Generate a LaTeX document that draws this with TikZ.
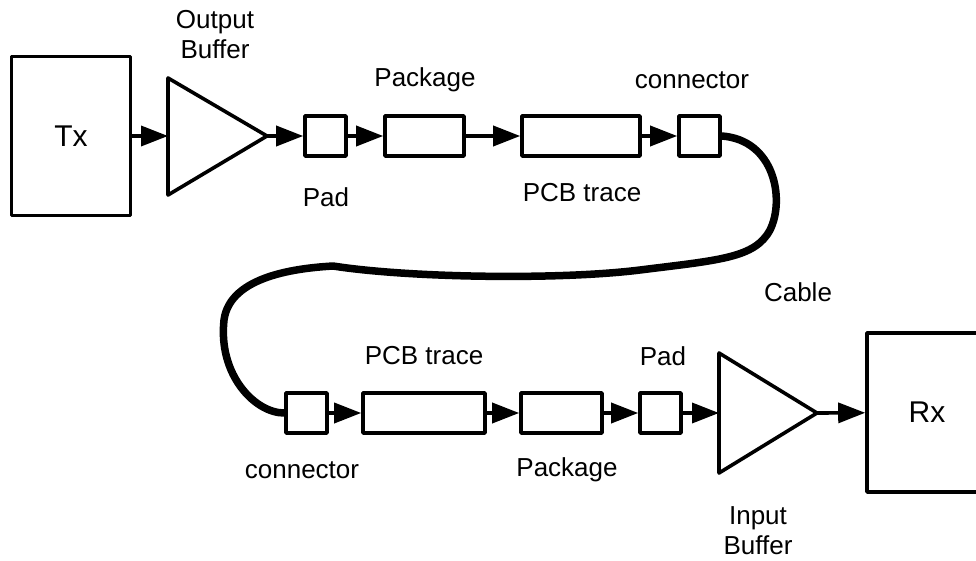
\documentclass[tikz,border=0pt]{standalone}
\usepackage{fontspec}
\setmainfont{Liberation Sans}
\usetikzlibrary{arrows.meta}

\begin{document}
\begin{tikzpicture}[x=1pt, y=-1pt, line width=3.6pt, line join=round,
		every node/.style={font=\fontsize{26}{30}\selectfont, align=center},
		blk/.style={draw, inner sep=0pt, minimum height=40pt},
		big/.style={draw, inner sep=0pt, minimum width=119pt, minimum height=159pt,
			font=\fontsize{30}{34}\selectfont},
		arr/.style={-{Triangle[length=27pt, width=20pt]}},
		cable/.style={line width=7.5pt, line cap=round}]
				\clip (0,0) rectangle (976,561);

				% transmit side
				\node[big] (tx) at (71,136) {Tx};
				\draw (168,78) -- (267,136) -- (168,195) -- cycle;
				\coordinate (obufin) at (168,136);
				\coordinate (obufout) at (267,136);
				\node (obuflbl) at (215,35) {Output\\Buffer};

				\node[blk, minimum width=41pt] (pad1) at (325.5,136) {};
				\node (pad1lbl) at (326,197) {Pad};
				\node[blk, minimum width=79pt] (pkg1) at (424.5,136) {};
				\node (pkg1lbl) at (425,80) {Package};
				\node[blk, minimum width=118pt] (pcb1) at (581,136) {};
				\node (pcb1lbl) at (582,193) {PCB trace};
				\node[blk, minimum width=41pt] (con1) at (699.5,136) {};
				\node (con1lbl) at (692,80) {connector};

				\draw[arr] (tx) -- (obufin);
				\draw[arr] (obufout) -- (pad1);
				\draw[arr] (pad1) -- (pkg1);
				\draw[arr] (pkg1) -- (pcb1);
				\draw[arr] (pcb1) -- (con1);

				% receive side
				\node[blk, minimum width=41pt] (con2) at (306.5,413) {};
				\node (con2lbl) at (302,470) {connector};
				\node[blk, minimum width=122pt] (pcb2) at (424,413) {};
				\node (pcb2lbl) at (424,356) {PCB trace};
				\node[blk, minimum width=81pt] (pkg2) at (561.5,413) {};
				\node (pkg2lbl) at (567,470) {Package};
				\node[blk, minimum width=41pt] (pad2) at (660.5,413) {};
				\node (pad2lbl) at (663,356) {Pad};

				\draw (719,353) -- (817,413) -- (719,473) -- cycle;
				\coordinate (ibufin) at (719,413);
				\coordinate (ibufout) at (817,413);
				\node (ibuflbl) at (758,531) {Input\\Buffer};

				\node[big, minimum width=120pt] (rx) at (927,412.5) {Rx};

				\draw[arr] (con2) -- (pcb2);
				\draw[arr] (pcb2) -- (pkg2);
				\draw[arr] (pkg2) -- (pad2);
				\draw[arr] (pad2) -- (ibufin);
				\draw[arr] (ibufout) -- (rx);

				% cable
				\draw[cable] (con1.east) .. controls (775,140) and (785,200) .. (770,230)
				.. controls (755,258) and (720,260) .. (640,270)
				.. controls (560,280) and (410,278) .. (333,266)
				.. controls (300,268) and (230,275) .. (224,320)
				.. controls (218,375) and (255,413) .. (con2.west);
				\node (cablelbl) at (798,292) {Cable};

			\end{tikzpicture}
\end{document}
